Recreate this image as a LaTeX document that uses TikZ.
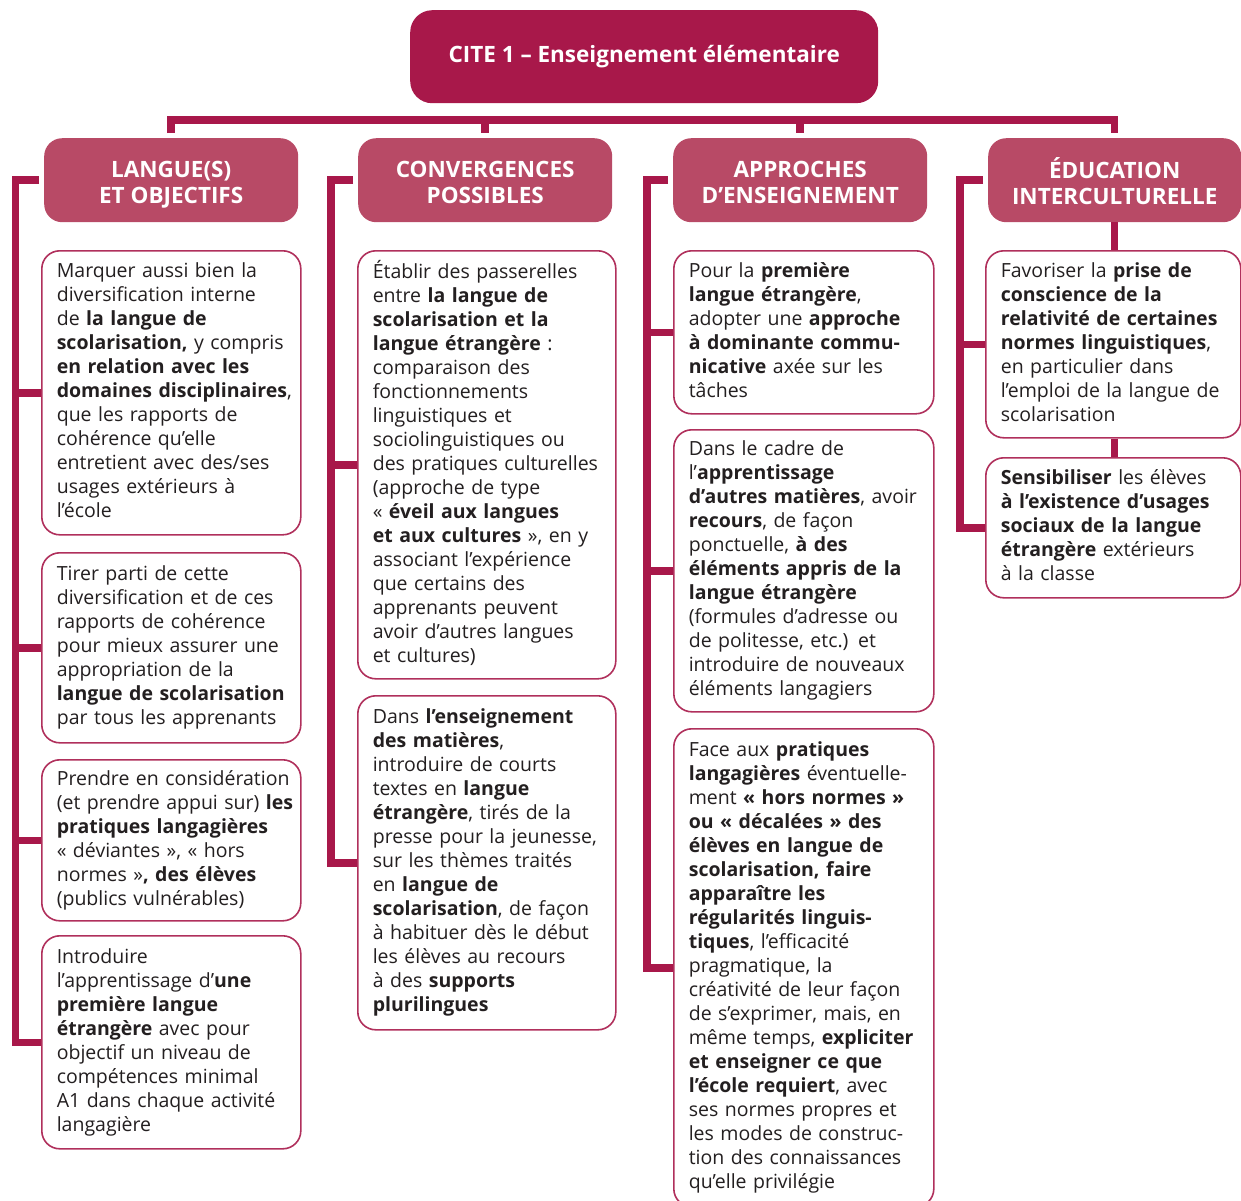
\documentclass[tikz,border=0pt]{standalone}
\usepackage{fontspec}
\setmainfont{Open Sans}
\usetikzlibrary{calc}
\definecolor{crim}{HTML}{A8184A}
\definecolor{rose}{HTML}{B84A66}
\definecolor{bord}{HTML}{B0305C}
\definecolor{ink}{HTML}{231F20}
\newcommand{\tx}[1]{\begin{tabular}{@{}l@{}}#1\end{tabular}}
\newcommand{\hdtx}[1]{\raisebox{-5pt}[\height][\depth]{\begin{tabular}{@{}c@{}}#1\end{tabular}}}
\newcommand{\bx}[1]{\textbf{#1}}
\tikzset{
  box/.style={draw=bord, line width=1.6pt, rounded corners=18pt, fill=white, anchor=north west,
    inner xsep=15pt, inner ysep=0pt, align=left, text=ink, font=\fontsize{19.5}{24}\selectfont},
  hd/.style={fill=rose, rounded corners=18pt, text=white, font=\bfseries\fontsize{22.5}{26}\selectfont,
    minimum height=84pt, anchor=north west, inner sep=0pt},
  ttl/.style={fill=crim, rounded corners=22pt, text=white, font=\bfseries\fontsize{22.5}{26}\selectfont,
    minimum width=468pt, minimum height=93pt, anchor=north west, inner sep=0pt},
  conn/.style={draw=crim, line width=7.5pt}
}
\begin{document}
\begin{tikzpicture}[x=1pt,y=-1pt]
\useasboundingbox (0,0) rectangle (1241,1200);
% title
\node[ttl] (t) at (410,10) {CITE 1 – Enseignement élémentaire};
% headers
\node[hd, minimum width=254pt] (h1) at (44,138) {\hdtx{LANGUE(S)\\ET OBJECTIFS}};
\node[hd, minimum width=254pt] (h2) at (358,138) {\hdtx{CONVERGENCES\\POSSIBLES}};
\node[hd, minimum width=254pt] (h3) at (673,138) {\hdtx{APPROCHES\\D’ENSEIGNEMENT}};
\node[hd, minimum width=253pt] (h4) at (988,138) {\hdtx{ÉDUCATION\\INTERCULTURELLE}};
% column 1
\node[box, minimum width=259pt, minimum height=284pt, text width=229pt] (b11) at (41,250) {\tx{%
Marquer aussi bien la\\
diversification interne\\
de \bx{la langue de}\\
\bx{scolarisation,} y compris\\
\bx{en relation avec les}\\
\bx{domaines disciplinaires},\\
que les rapports de\\
cohérence qu’elle\\
entretient avec des/ses\\
usages extérieurs à\\
l’école}};
\node[box, minimum width=259pt, minimum height=190pt, text width=229pt] (b12) at (41,552) {\tx{%
Tirer parti de cette\\
diversification et de ces\\
rapports de cohérence\\
pour mieux assurer une\\
appropriation de la\\
\bx{langue de scolarisation}\\
par tous les apprenants}};
\node[box, minimum width=259pt, minimum height=161pt, text width=229pt] (b13) at (41,759) {\tx{%
Prendre en considération\\
(et prendre appui sur) \bx{les}\\
\bx{pratiques langagières}\\
« déviantes », « hors\\
normes »\bx{, des élèves}\\
(publics vulnérables)}};
\node[box, minimum width=259pt, minimum height=213pt, text width=229pt] (b14) at (41,935) {\tx{%
Introduire\\
l’apprentissage d’\bx{une}\\
\bx{première langue}\\
\bx{étrangère} avec pour\\
objectif un niveau de\\
compétences minimal\\
A1 dans chaque activité\\
langagière}};
% column 2
\node[box, minimum width=258pt, minimum height=428pt, text width=228pt] (b21) at (357,250) {\tx{%
Établir des passerelles\\
entre \bx{la langue de}\\
\bx{scolarisation et la}\\
\bx{langue étrangère} :\\
comparaison des\\
fonctionnements\\
linguistiques et\\
sociolinguistiques ou\\
des pratiques culturelles\\
(approche de type\\
« \bx{éveil aux langues}\\
\bx{et aux cultures} », en y\\
associant l’expérience\\
que certains des\\
apprenants peuvent\\
avoir d’autres langues\\
et cultures)}};
\node[box, minimum width=258pt, minimum height=334pt, text width=228pt] (b22) at (357,695) {\tx{%
Dans \bx{l’enseignement}\\
\bx{des matières},\\
introduire de courts\\
textes en \bx{langue}\\
\bx{étrangère}, tirés de la\\
presse pour la jeunesse,\\
sur les thèmes traités\\
en \bx{langue de}\\
\bx{scolarisation}, de façon\\
à habituer dès le début\\
les élèves au recours\\
à des \bx{supports}\\
\bx{plurilingues}}};
% column 3
\node[box, minimum width=260pt, minimum height=163pt, text width=230pt] (b31) at (673,250) {\tx{%
Pour la \bx{première}\\
\bx{langue étrangère},\\
adopter une \bx{approche}\\
\bx{à dominante commu-}\\
\bx{nicative} axée sur les\\
tâches}};
\node[box, minimum width=260pt, minimum height=282pt, text width=230pt] (b32) at (673,429) {\tx{%
Dans le cadre de\\
l’\bx{apprentissage}\\
\bx{d’autres matières}, avoir\\
\bx{recours}, de façon\\
ponctuelle, \bx{à des}\\
\bx{éléments appris de la}\\
\bx{langue étrangère}\\
(formules d’adresse ou\\
de politesse, etc.) et\\
introduire de nouveaux\\
éléments langagiers}};
\node[box, minimum width=260pt, minimum height=478pt, text width=230pt] (b33) at (673,728) {\tx{%
Face aux \bx{pratiques}\\
\bx{langagières} éventuelle-\\
ment \bx{« hors normes »}\\
\bx{ou « décalées » des}\\
\bx{élèves en langue de}\\
\bx{scolarisation, faire}\\
\bx{apparaître les}\\
\bx{régularités linguis-}\\
\bx{tiques}, l’efficacité\\
pragmatique, la\\
créativité de leur façon\\
de s’exprimer, mais, en\\
même temps, \bx{expliciter}\\
\bx{et enseigner ce que}\\
\bx{l’école requiert}, avec\\
ses normes propres et\\
les modes de construc-\\
tion des connaissances\\
qu’elle privilégie}};
% column 4
\node[box, minimum width=255pt, minimum height=187pt, text width=225pt] (b41) at (985,250) {\tx{%
Favoriser la \bx{prise de}\\
\bx{conscience de la}\\
\bx{relativité de certaines}\\
\bx{normes linguistiques},\\
en particulier dans\\
l’emploi de la langue de\\
scolarisation}};
\node[box, minimum width=255pt, minimum height=140pt, text width=225pt] (b42) at (985,457) {\tx{%
\bx{Sensibiliser} les élèves\\
\bx{à l’existence d’usages}\\
\bx{sociaux de la langue}\\
\bx{étrangère} extérieurs\\
à la classe}};
% top bar
\coordinate (bar) at (0,120);
\draw[conn] ([yshift=5pt]h1.north) -- (h1.north |- bar) -- (h4.north |- bar) -- ([yshift=5pt]h4.north);
\draw[conn] (h2.north |- bar) -- ([yshift=5pt]h2.north);
\draw[conn] (h3.north |- bar) -- ([yshift=5pt]h3.north);
% left trees
\coordinate (v1) at (15.5,0);
\coordinate (v2) at (331,0);
\coordinate (v3) at (647,0);
\coordinate (v4) at (960,0);
\draw[conn] ([xshift=-5pt]h1.west) -- (h1.west -| v1) |- (b14.west);
\foreach \b in {b11,b12,b13} \draw[conn] (\b.west -| v1) -- (\b.west);
\draw[conn] ([xshift=-5pt]h2.west) -- (h2.west -| v2) |- (b22.west);
\draw[conn] (b21.west -| v2) -- (b21.west);
\draw[conn] ([xshift=-5pt]h3.west) -- (h3.west -| v3) |- (b33.west);
\foreach \b in {b31,b32} \draw[conn] (\b.west -| v3) -- (\b.west);
\draw[conn] ([xshift=-5pt]h4.west) -- (h4.west -| v4) |- (b42.west);
\draw[conn] (b41.west -| v4) -- (b41.west);
% column 4 vertical links
\draw[conn] (h4.south) -- (h4.south |- b41.north);
\draw[conn] (b41.south -| h4.south) -- (b42.north -| h4.south);
\end{tikzpicture}
\end{document}
